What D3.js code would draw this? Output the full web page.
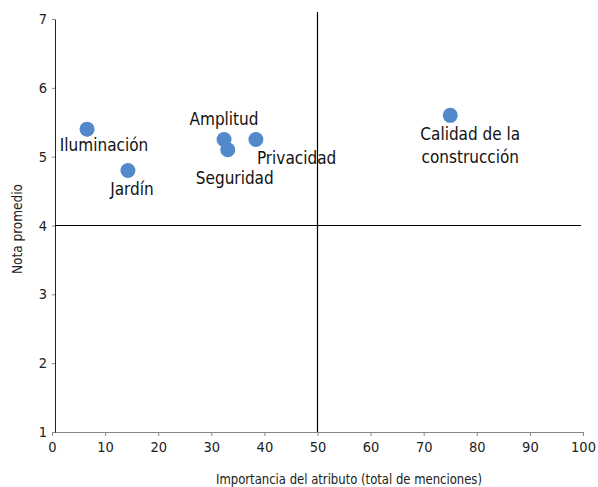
<!DOCTYPE html>
<html><head><meta charset="utf-8">
<script src="https://cdn.jsdelivr.net/npm/d3@7/dist/d3.min.js"></script>
<style>body{margin:0;background:#fff}svg{display:block}text{font-family:"DejaVu Sans Condensed","DejaVu Sans",sans-serif;font-stretch:condensed}</style>
</head><body><svg id="c" width="598" height="487"></svg>
<script>
const names = ["Iluminación","Jardín","Amplitud","Seguridad","Privacidad","Calidad de la construcción"];
const importancia = [6.6, 14.3, 32.4, 33.1, 38.4, 75.0];
const nota = [5.4, 4.8, 5.25, 5.1, 5.25, 5.6];
const xTicks = [0,10,20,30,40,50,60,70,80,90,100];
const yTicks = [1,2,3,4,5,6,7];
const xCross = 50, yCross = 4;
// label layout: [dx, dy, anchor, lines]
const labelLayout = [
  [17, 22, "middle", ["Iluminación"]],
  [4, 25, "middle", ["Jardín"]],
  [0, -14, "middle", ["Amplitud"]],
  [7, 34, "middle", ["Seguridad"]],
  [1, 25, "start", ["Privacidad"]],
  [20, 25, "middle", ["Calidad de la","construcción"]]
];

const svg = d3.select("#c");
const x = d3.scaleLinear().domain([0,100]).range([52,583]);
const y = d3.scaleLinear().domain([1,7]).range([432,19]);

const xa = svg.append("g").attr("transform",`translate(0,${y(1)})`)
  .call(d3.axisBottom(x).tickValues(xTicks).tickFormat(d3.format("d")).tickSize(4).tickSizeOuter(0).tickPadding(6));
xa.select(".domain").attr("stroke","#888");
xa.selectAll(".tick line").attr("stroke","#888");
xa.selectAll("text").attr("font-size",14.5).attr("fill","#222");

const ya = svg.append("g").attr("transform",`translate(55,0)`)
  .call(d3.axisLeft(y).tickValues(yTicks).tickFormat(d3.format("d")).tickSize(3).tickSizeOuter(0).tickPadding(5));
ya.select(".domain").attr("stroke","#222");
ya.selectAll(".tick line").attr("stroke","#888");
ya.selectAll("text").attr("font-size",14.5).attr("fill","#222");

svg.append("line").attr("x1",x(xCross)).attr("x2",x(xCross)).attr("y1",12).attr("y2",y(1))
  .attr("stroke","#000").attr("stroke-width",1.2);
svg.append("line").attr("x1",55).attr("x2",x(100)-2).attr("y1",y(yCross)).attr("y2",y(yCross))
  .attr("stroke","#000").attr("stroke-width",1.2);

const data = names.map((n,i)=>({n, xv:importancia[i], yv:nota[i], l:labelLayout[i]}));
svg.selectAll("circle.pt").data(data).join("circle").attr("class","pt")
  .attr("cx",d=>x(d.xv)).attr("cy",d=>y(d.yv)).attr("r",7.5).attr("fill","#5189CB");

const lbl = svg.selectAll("text.lbl").data(data).join("text").attr("class","lbl")
  .attr("x",d=>x(d.xv)+d.l[0]).attr("y",d=>y(d.yv)+d.l[1])
  .attr("text-anchor",d=>d.l[2]).attr("font-size",17).attr("fill","#111");
lbl.each(function(d){
  const t=d3.select(this);
  d.l[3].forEach((s,j)=>t.append("tspan").attr("x",x(d.xv)+d.l[0]).attr("dy",j?23:0).text(s));
});

svg.append("text").attr("x",349).attr("y",484).attr("text-anchor","middle").attr("font-size",14)
  .attr("textLength",266).attr("lengthAdjust","spacingAndGlyphs")
  .attr("fill","#222").text("Importancia del atributo (total de menciones)");
svg.append("text").attr("transform","translate(22,229) rotate(-90)").attr("text-anchor","middle")
  .attr("font-size",14).attr("textLength",90).attr("lengthAdjust","spacingAndGlyphs")
  .attr("fill","#222").text("Nota promedio");
</script></body></html>
